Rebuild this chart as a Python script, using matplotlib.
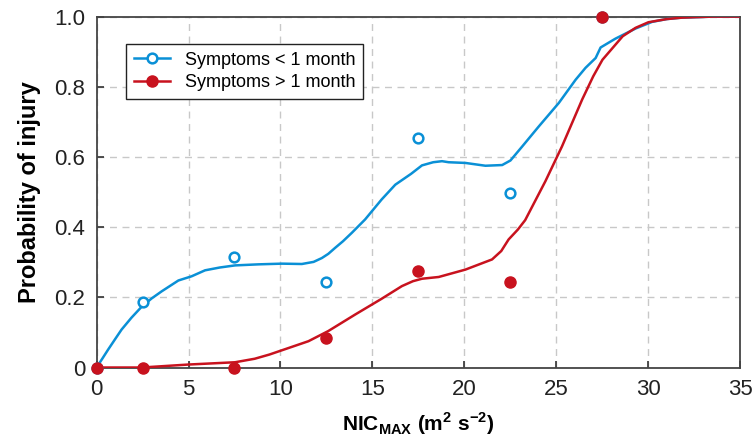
import numpy as np
import matplotlib
matplotlib.use('Agg')
import matplotlib.pyplot as plt
from matplotlib.lines import Line2D

plt.rcParams['font.family'] = ['Liberation Sans', 'DejaVu Sans']
plt.rcParams['mathtext.fontset'] = 'custom'
plt.rcParams['mathtext.bf'] = 'Liberation Sans:bold'
plt.rcParams['mathtext.rm'] = 'Liberation Sans'

# binned observations
bins = [0, 2.5, 7.5, 12.5, 17.5, 22.5, 27.5]
obs_short = [0, 0.187, 0.315, 0.244, 0.655, 0.496, 1.0]
obs_long = [0, 0, 0, 0.085, 0.274, 0.243, 1.0]

# smoothed curves
x_short = [0, 0.3, 0.63, 1.0, 1.36, 1.9, 2.45, 3.0, 3.54, 4.45, 5.17, 5.9, 6.7, 7.53, 8.8, 10.07, 11.16,
           11.8, 12.25, 12.6, 12.97, 13.4, 13.88, 14.6, 15.5, 16.24, 17.1, 17.69, 18.3, 18.78, 19.14,
           20.05, 21.14, 22.05, 22.5, 23.14, 24.04, 25.13, 26.04, 26.58, 27.13, 27.4, 28.2, 29.3,
           30.2, 31.0, 31.8, 33.5, 35]
y_short = [0, 0.024, 0.051, 0.08, 0.108, 0.142, 0.173, 0.197, 0.217, 0.248, 0.26, 0.277, 0.285, 0.291,
           0.294, 0.296, 0.295, 0.301, 0.312, 0.324, 0.341, 0.36, 0.384, 0.422, 0.479, 0.521, 0.552, 0.576,
           0.585, 0.588, 0.585, 0.583, 0.575, 0.577, 0.59, 0.63, 0.687, 0.754, 0.82, 0.854, 0.882, 0.912,
           0.937, 0.966, 0.985, 0.993, 0.997, 1.0, 1.0]
x_long = [0, 2.45, 5.0, 7.53, 8.6, 9.4, 10.07, 11.52, 12.6, 14.06, 15.5, 16.6, 17.2, 17.69, 18.6, 20.05,
          21.5, 22.0, 22.4, 22.9, 23.3, 24.4, 25.3, 26.4, 27.0, 27.5, 28.6, 29.3, 30.0, 31.0, 31.8,
          33.5, 35]
y_long = [0, 0.0, 0.0085, 0.015, 0.025, 0.037, 0.049, 0.075, 0.104, 0.151, 0.196, 0.232, 0.246, 0.253,
          0.258, 0.279, 0.308, 0.332, 0.365, 0.393, 0.42, 0.531, 0.63, 0.764, 0.83, 0.877, 0.944, 0.968,
          0.984, 0.993, 0.997, 1.0, 1.0]

blue = '#0a90d6'
red = '#c8121e'

fig = plt.figure(figsize=(7.54, 4.37), dpi=100)
ax = fig.add_axes([0.128, 0.159, 0.854, 0.803])

ax.plot(x_short, y_short, color=blue, lw=1.8, zorder=3)
ax.plot(x_long, y_long, color=red, lw=1.8, zorder=3)
ax.plot(bins, obs_short, 'o', ms=7, mfc='white', mec=blue, mew=1.8, ls='none', zorder=4, clip_on=False)
ax.plot(bins, obs_long, 'o', ms=8, color=red, ls='none', zorder=5, clip_on=False)

ax.set_xlim(0, 35)
ax.set_ylim(0, 1)
ax.set_xticks(range(0, 36, 5))
ax.set_yticks([0, 0.2, 0.4, 0.6, 0.8, 1.0])
ax.set_yticklabels(['0', '0.2', '0.4', '0.6', '0.8', '1.0'])
ax.tick_params(direction='in', length=5, width=1.2, labelsize=16, colors='#333333', labelcolor='#222222')
ax.tick_params(axis='x', pad=8)
ax.tick_params(axis='y', pad=8)
ax.grid(True, color='#c8c8c8', linestyle=(0, (5, 4)), linewidth=1)
for s in ax.spines.values():
    s.set_color('#444444')
    s.set_linewidth(1.3)

ax.set_xlabel(r'NIC$_{\mathbf{MAX}}$ (m$^{\mathbf{2}}$ s$^{\mathbf{-2}}$)', fontsize=15, fontweight='bold', labelpad=8)
ax.set_ylabel('Probability of injury', fontsize=17, fontweight='bold', labelpad=10)

handles = [Line2D([], [], color=blue, lw=1.8, marker='o', ms=7, mfc='white', mec=blue, mew=1.8),
           Line2D([], [], color=red, lw=1.8, marker='o', ms=8, mfc=red, mec=red)]
leg = ax.legend(handles, ['Symptoms < 1 month', 'Symptoms > 1 month'], loc='upper left',
                bbox_to_anchor=(0.046, 0.923), borderaxespad=0, fontsize=13, fancybox=False,
                framealpha=1, edgecolor='#222222', handlelength=2.0, borderpad=0.45, labelspacing=0.3)
leg.get_frame().set_linewidth(1.0)

fig.savefig('out.png', dpi=100)
